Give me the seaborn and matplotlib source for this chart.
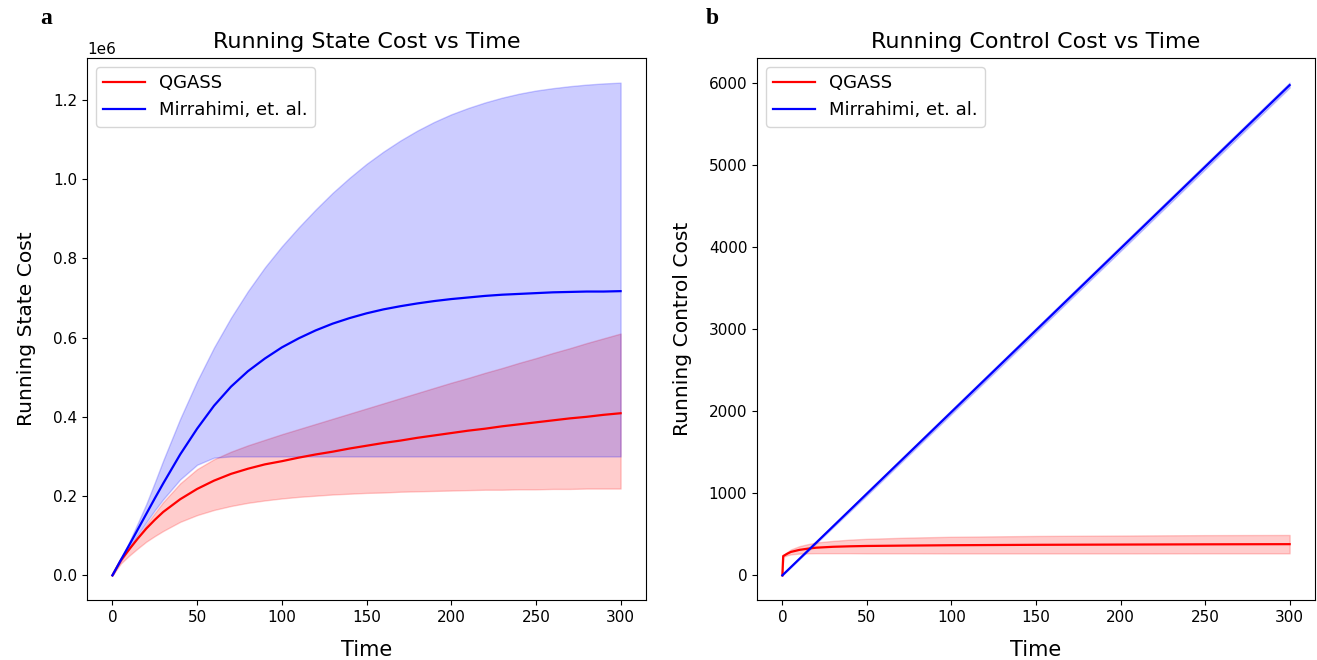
import numpy as np
import pandas as pd
import matplotlib
matplotlib.use("Agg")
import matplotlib.pyplot as plt
import seaborn as sns

# ---------------- data: panel a (Running State Cost, units of 1e6) ----------------
t_state = [0, 5, 10, 15, 20, 25, 30, 40, 50, 60, 70, 80, 90, 100,
           110, 120, 130, 140, 150, 160, 170, 180, 190, 200,
           210, 220, 230, 240, 250, 260, 270, 280, 290, 300]

qgass_state_mean = [0, 0.038, 0.066, 0.093, 0.118, 0.140, 0.160, 0.192, 0.218, 0.239,
                    0.256, 0.269, 0.280, 0.288,
                    0.297, 0.305, 0.312, 0.320, 0.327, 0.334, 0.340, 0.347, 0.353, 0.359,
                    0.365, 0.370, 0.376, 0.381, 0.386, 0.391, 0.396, 0.400, 0.405, 0.409]
qgass_state_low = [0, 0.030, 0.050, 0.068, 0.085, 0.099, 0.112, 0.135, 0.152, 0.165,
                   0.175, 0.183, 0.189, 0.194,
                   0.198, 0.201, 0.204, 0.206, 0.208, 0.209, 0.211, 0.212, 0.213, 0.214,
                   0.215, 0.216, 0.216, 0.217, 0.217, 0.218, 0.218, 0.219, 0.219, 0.219]
qgass_state_high = [0, 0.036, 0.068, 0.098, 0.128, 0.157, 0.185, 0.232, 0.268, 0.293,
                    0.312, 0.328, 0.342, 0.356,
                    0.369, 0.382, 0.395, 0.408, 0.421, 0.434, 0.447, 0.460, 0.473, 0.486,
                    0.498, 0.511, 0.523, 0.536, 0.548, 0.561, 0.573, 0.586, 0.598, 0.610]

mirr_state_mean = [0, 0.039, 0.077, 0.116, 0.155, 0.194, 0.232, 0.305, 0.370, 0.428,
                   0.476, 0.515, 0.547, 0.575,
                   0.598, 0.618, 0.635, 0.649, 0.661, 0.671, 0.679, 0.686, 0.692, 0.697,
                   0.701, 0.705, 0.708, 0.710, 0.712, 0.714, 0.715, 0.716, 0.716, 0.717]
mirr_state_low = [0, 0.037, 0.071, 0.103, 0.134, 0.164, 0.192, 0.242, 0.279, 0.297,
                  0.300, 0.300, 0.300, 0.300,
                  0.300, 0.300, 0.300, 0.300, 0.300, 0.300, 0.300, 0.300, 0.300, 0.300,
                  0.300, 0.300, 0.300, 0.300, 0.300, 0.300, 0.300, 0.300, 0.300, 0.300]
mirr_state_high = [0, 0.041, 0.085, 0.132, 0.180, 0.234, 0.290, 0.395, 0.490, 0.575,
                   0.650, 0.717, 0.777, 0.830,
                   0.878, 0.923, 0.965, 1.003, 1.038, 1.069, 1.097, 1.122, 1.144, 1.163,
                   1.179, 1.193, 1.205, 1.215, 1.223, 1.229, 1.234, 1.238, 1.241, 1.243]

# ---------------- data: panel b (Running Control Cost) ----------------
t_ctrl_q = [0, 0.5, 3, 5, 10, 15, 20, 30, 40, 50, 75, 100, 150, 200, 250, 300]
qgass_ctrl_mean = [0, 235, 265, 285, 310, 325, 337, 348, 354, 358, 363, 367, 372, 375, 378, 380]
qgass_ctrl_low = [0, 225, 245, 255, 265, 268, 270, 270, 270, 268, 268, 267, 267, 267, 268, 268]
qgass_ctrl_high = [0, 245, 285, 315, 355, 380, 400, 420, 435, 445, 460, 470, 480, 485, 490, 492]

t_ctrl_m = [0, 50, 100, 150, 200, 250, 300]
mirr_ctrl_mean = [0, 995, 1990, 2985, 3980, 4975, 5970]
mirr_ctrl_low = [0, 975, 1965, 2958, 3950, 4945, 5940]
mirr_ctrl_high = [0, 1015, 2015, 3012, 4010, 5005, 6000]

labels = ["QGASS", "Mirrahimi, et. al."]
colors = ["red", "blue"]

plt.rcParams['font.family'] = ['DejaVu Sans']

fig = plt.figure(figsize=(13.17, 6.6), dpi=100)
ax1 = fig.add_axes([87 / 1317, 60 / 660, 559 / 1317, 542 / 660])
ax2 = fig.add_axes([757 / 1317, 60 / 660, 558 / 1317, 542 / 660])

scale = 1e6
# panel a
ax1.fill_between(t_state, np.array(qgass_state_low) * scale, np.array(qgass_state_high) * scale,
                 color=colors[0], alpha=0.2)
ax1.fill_between(t_state, np.array(mirr_state_low) * scale, np.array(mirr_state_high) * scale,
                 color=colors[1], alpha=0.2)
sns.lineplot(x=t_state, y=np.array(qgass_state_mean) * scale, ax=ax1, color=colors[0],
             label=labels[0], linewidth=1.6)
sns.lineplot(x=t_state, y=np.array(mirr_state_mean) * scale, ax=ax1, color=colors[1],
             label=labels[1], linewidth=1.6)

# panel b
ax2.fill_between(t_ctrl_q, qgass_ctrl_low, qgass_ctrl_high, color=colors[0], alpha=0.2)
ax2.fill_between(t_ctrl_m, mirr_ctrl_low, mirr_ctrl_high, color=colors[1], alpha=0.2)
sns.lineplot(x=t_ctrl_q, y=qgass_ctrl_mean, ax=ax2, color=colors[0], label=labels[0], linewidth=1.6)
sns.lineplot(x=t_ctrl_m, y=mirr_ctrl_mean, ax=ax2, color=colors[1], label=labels[1], linewidth=1.6)

for ax, title, ylabel in [(ax1, "Running State Cost vs Time", "Running State Cost"),
                          (ax2, "Running Control Cost vs Time", "Running Control Cost")]:
    ax.set_title(title, fontsize=16, pad=7)
    ax.set_xlabel("Time", fontsize=15, labelpad=11)
    ax.set_ylabel(ylabel, fontsize=14.6, labelpad=12)
    ax.tick_params(labelsize=11)
    ax.set_xticks([0, 50, 100, 150, 200, 250, 300])
    ax.legend(loc="upper left", fontsize=13, handlelength=2.3)
    ax.yaxis.get_offset_text().set_fontsize(11)

fig.text(40 / 1317, 1 - 18 / 660, "a", fontsize=17, fontweight="bold",
         family="Liberation Serif", va="center", ha="left")
fig.text(706 / 1317, 1 - 18 / 660, "b", fontsize=17, fontweight="bold",
         family="Liberation Serif", va="center", ha="left")

fig.savefig("out.png", dpi=100)
